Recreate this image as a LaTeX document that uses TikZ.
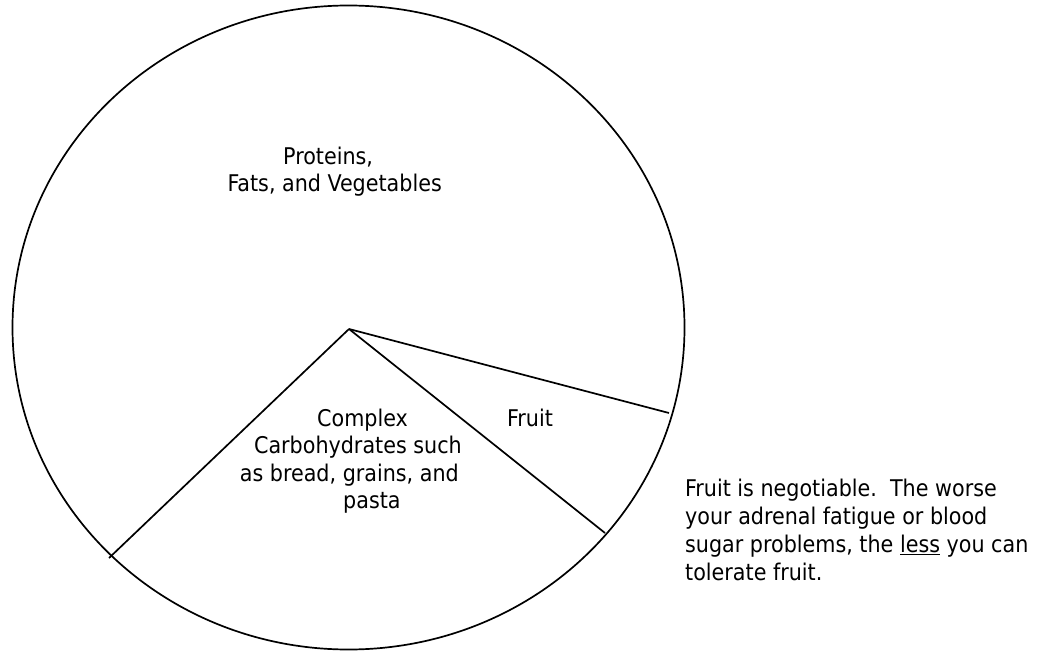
\documentclass[tikz,border=0pt]{standalone}
\usepackage{fontspec}
\setmainfont{DejaVu Sans Condensed}
\begin{document}
\begin{tikzpicture}[x=1pt,y=-1pt,
  pieline/.style={line width=1.7pt,black},
  lbl/.style={inner sep=0pt,font=\fontsize{23}{28}\selectfont},
  lw/.style={lbl,anchor=base west},
  le/.style={lbl,anchor=base east}]
\useasboundingbox (0,0) rectangle (1048,652);
\draw[pieline] (348.5,327.5) ellipse [x radius=336, y radius=322];
\coordinate (c) at (349,329);
\coordinate (l) at (109,558);
\coordinate (r) at (605,533);
\coordinate (u) at (669,413);
\draw[pieline] (c) -- (l);
\draw[pieline] (c) -- (r);
\draw[pieline] (c) -- (u);
\node[lw] (p1) at (283,165) {Proteins,};
\node[le] (p2) at (442,192) {Fats, and Vegetables};
\node[lw] (c1) at (317,426) {Complex};
\node[le] (c2) at (462,453) {Carbohydrates such};
\node[le] (c3) at (459,481) {as bread, grains, and};
\node[lw] (c4) at (343,508) {pasta};
\node[lw] (f) at (507,426) {Fruit};
\node[lw] (n1) at (685,496) {Fruit is negotiable.\ \ The worse};
\node[lw] (n2) at (685,524) {your adrenal fatigue or blood};
\node[lw] (n3) at (685,552) {sugar problems, the \underline{less} you can};
\node[lw] (n4) at (685,580) {tolerate fruit.};
\end{tikzpicture}
\end{document}
